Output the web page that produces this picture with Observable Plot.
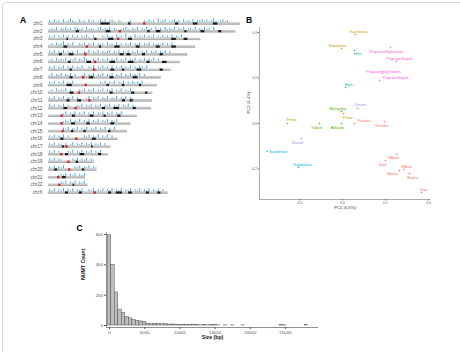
<!DOCTYPE html>
<html><head><meta charset="utf-8">
<script src="https://cdn.jsdelivr.net/npm/d3@7"></script>
<script src="https://cdn.jsdelivr.net/npm/@observablehq/plot@0.6"></script>
<style>
body{margin:0;background:#fff;font-family:"Liberation Sans",Arial,sans-serif;}
#fig{position:relative;width:460px;height:352px;overflow:hidden;background:#fff;}
.frame{position:absolute;left:2px;top:2px;width:480px;height:380px;border:1px solid #d9d9d9;border-radius:4px;}
.panel{position:absolute;}
#tags{position:absolute;left:0;top:0;}
</style></head>
<body><div id="fig"><div class="frame"></div>
<div id="pa" class="panel" style="left:0;top:0"></div>
<div id="pb" class="panel" style="left:230px;top:0"></div>
<div id="pc" class="panel" style="left:60px;top:210px"></div>
<svg id="tags" width="460" height="352" font-family="Liberation Sans, Arial, sans-serif" font-weight="bold" font-size="8.5">
<text x="20" y="23">A</text><text x="246" y="22.5">B</text><text x="76.5" y="231">C</text>
</svg>
</div>
<script>
// ---------- Panel A data ----------
const chroms = ["chr1","chr2","chr3","chr4","chr5","chr6","chr7","chr8","chr9","chr10","chr11","chr12","chr13","chr14","chr15","chr16","chr17","chr18","chr19","chr20","chr21","chr22","chrX"];
const chromLengths = [249.3,243.2,198.0,191.2,180.9,171.1,159.1,146.4,141.2,135.5,135.0,133.9,115.2,107.3,102.5,90.4,81.2,78.1,59.1,63.0,48.1,51.3,155.3];
const centromeres = [125.0,93.3,91.0,50.4,48.4,61.0,59.9,45.6,49.0,40.2,53.7,35.8,17.9,17.6,19.0,36.6,24.0,17.2,26.5,27.5,13.2,14.7,60.6];
const darkBands = [
 ["chr1",68,80],["chr1",104,107],["chr1",165,169],["chr1",188,194],["chr1",214,220],
 ["chr2",36,40],["chr2",75,81],["chr2",129,132],["chr2",140,146],["chr2",177,180],["chr2",198,203],["chr2",221,225],
 ["chr3",24,26],["chr3",60,63],["chr3",78,85],["chr3",104,109],["chr3",160,166],["chr3",176,181],
 ["chr4",20,25],["chr4",66,69],["chr4",86,93],["chr4",114,119],["chr4",140,145],["chr4",160,166],
 ["chr5",14,18],["chr5",27,33],["chr5",93,98],["chr5",102,107],["chr5",122,126],["chr5",145,149],
 ["chr6",26,29],["chr6",50,56],["chr6",80,87],["chr6",104,111],["chr6",128,132],["chr6",148,154],
 ["chr7",28,31],["chr7",81,86],["chr7",96,99],["chr7",115,121],["chr7",145,149],
 ["chr8",28,32],["chr8",53,59],["chr8",80,85],["chr8",110,116],
 ["chr9",24,31],["chr9",76,79],["chr9",96,99],["chr9",118,121],
 ["chr10",28,33],["chr10",80,84],["chr10",108,112],["chr10",126,129],
 ["chr11",24,28],["chr11",38,43],["chr11",96,100],["chr11",106,110],
 ["chr12",20,25],["chr12",70,74],["chr12",85,92],["chr12",110,114],
 ["chr13",31,35],["chr13",54,59],["chr13",72,75],["chr13",90,94],
 ["chr14",30,35],["chr14",50,54],["chr14",81,86],
 ["chr15",30,33],["chr15",46,49],["chr15",78,81],
 ["chr16",16,20],["chr16",57,62],
 ["chr17",18,21],["chr17",56,58],
 ["chr18",22,26],["chr18",41,47],["chr18",65,69],
 ["chr19",36,39],
 ["chr20",8,12],["chr20",44,47],
 ["chr21",18,23],
 ["chr22",32,34],
 ["chrX",22,26],["chrX",40,44],["chrX",78,82],["chrX",88,96],["chrX",104,109],["chrX",127,131],["chrX",142,146]
];
// NUMT track heights, one digit per 3-Mb bin (read approximately)
const numtBinMb = 3;
const numtTrack = [
 "213120312421031203120131302310210012000002131204123012312031213022313124102312",
 "121302131203212031210231213021012310213021312031203121302130221302131203",
 "2130213120312021310200021312031204120312130213021312130213",
 "1203124021300213021302120312031202130213021302121302130",
 "21302130212030021302130212302130213021302130213021302",
 "120312130213021420021302130213021302130213121302",
 "21302130213021300213021312030213021302132130",
 "130213021302001302130213021302130213121302",
 "21302130213000000000002130213021302131213",
 "1203121302000213021302130213021302130",
 "2130213021302000130213021302130213021",
 "3120213021002130213021302130213021302",
 "00000013021302130213021302130213",
 "000000121302130213021302130213",
 "000000213021302130213021302130",
 "2130213020000002130213021302",
 "2130210201302130213021302",
 "213020002130213021302130",
 "21302100002130213021",
 "2130213000021302130213",
 "0000121302130213",
 "00000213021302130",
 "21302130213021300213021302130213021302130213021302"
];

// ---------- Panel B data ----------
const popNames = ["Karitiana","Karitiana","Han","PapuanHighlands","PapuanSepik","PapuanHighlands","PapuanSepik","Han","Druze","Mongola","Pima","Yoruba","Yoruba","Pima","Yakut","Altaian","Druze","Sardinian","Sardinian","Mbuti","San","Mbuti","Biaka","Biaka","San"];
const popRegion = ["America","America","EastAsia","Oceania","Oceania","Oceania","Oceania","EastAsia","MiddleEast","CentralAsiaSiberia","America","Africa","Africa","America","CentralAsiaSiberia","CentralAsiaSiberia","MiddleEast","WestEurasia","WestEurasia","Africa","Africa","Africa","Africa","Africa","Africa"];
const pc1 = [0.060,-0.005,0.056,0.223,0.251,0.186,0.172,0.014,0.070,-0.005,0.005,0.056,0.195,-0.256,-0.107,-0.005,-0.191,-0.349,-0.205,0.251,0.200,0.284,0.265,0.312,0.367];
const pc2 = [0.391,0.330,0.321,0.334,0.273,0.220,0.189,0.158,0.066,0.053,0.044,0.000,0.009,0.000,0.000,0.000,-0.066,-0.123,-0.193,-0.136,-0.163,-0.202,-0.207,-0.220,-0.303];
const labelPc1 = [0.074,-0.023,0.070,0.205,0.265,0.191,0.247,0.028,0.084,-0.023,0.023,0.098,0.181,-0.237,-0.121,-0.023,-0.209,-0.298,-0.186,0.237,0.186,0.298,0.233,0.326,0.377];
const labelPc2 = [0.404,0.343,0.308,0.316,0.286,0.229,0.202,0.171,0.084,0.066,0.026,0.013,-0.009,0.018,-0.018,-0.018,-0.084,-0.123,-0.180,-0.149,-0.180,-0.189,-0.220,-0.237,-0.290];
const regions = ["Africa","America","CentralAsiaSiberia","EastAsia","WestEurasia","MiddleEast","Oceania"];
const regionColors = ["#F8766D","#C49A00","#53B400","#00C094","#00B6EB","#A58AFF","#FB61D7"];
const pcTicks = [-0.2,0.0,0.2,0.4];

// ---------- Panel C data ----------
const binWidth = 500;
const histCounts = [595,400,218,105,82,58,47,36,31,27,23,13,9,12,10,8,9,6,7,4,3,4,2,2,4,2,1,3,1,2,3,1,0,1,0,1,0,0,1,0,0,0,0,0,0,0,0,0,0,2,1,0,0,0,0,0,2];
const sizeTicks = [0,5000,10000,15000,20000,25000];
const countTicks = [0,200,400,600];

const font = "Liberation Sans, Arial, sans-serif";

// ---------- Panel A ----------
const rowsA = chroms.map((c,i)=>({c,i,len:chromLengths[i],cen:centromeres[i]}));
const bandsA = darkBands.map(([c,s,e])=>({i:chroms.indexOf(c),s,e}));
const ticksA = [];
numtTrack.forEach((str,i)=>{
  for (let k=0;k<str.length;k++){
    const h=+str[k], pos=k*numtBinMb+numtBinMb/2;
    if (h>0 && pos<chromLengths[i]) ticksA.push({i,pos,h});
  }
});
document.getElementById("pa").append(Plot.plot({
  width:242, height:200, marginLeft:48, marginRight:2, marginTop:23, marginBottom:8,
  style:{fontFamily:font, background:"transparent", overflow:"visible"},
  x:{domain:[0,249.3], axis:null},
  y:{domain:[0,22], reverse:true},
  marks:[
    Plot.ruleY(rowsA,{y:"i", x1:()=>0, x2:"len", stroke:"#c8c8c8", strokeWidth:2.4}),
    Plot.ruleY(rowsA,{y:d=>d.i+0.1, x1:()=>0, x2:"len", stroke:"#9a9a9a", strokeWidth:0.6}),
    Plot.ruleY(bandsA,{y:"i", x1:"s", x2:"e", stroke:"#1a1a1a", strokeWidth:2.2}),
    Plot.ruleY(rowsA,{y:"i", x1:d=>d.cen-1.6, x2:d=>d.cen+1.6, stroke:"#d62728", strokeWidth:2.4}),
    Plot.ruleX(ticksA,{x:"pos", y1:d=>d.i-0.1, y2:d=>d.i-0.1-d.h*0.13, stroke:"#3f9bd0", strokeWidth:0.9}),
    Plot.axisY({ticks:d3.range(chroms.length), tickFormat:i=>chroms[i], tickSize:0, tickPadding:6, fontSize:4.8, color:"#555", label:null})
  ]
}));

// ---------- Panel B ----------
const pca = popNames.map((p,i)=>({pop:p, region:popRegion[i], pc1:pc1[i], pc2:pc2[i], lx:labelPc1[i], ly:labelPc2[i]}));
const xd=[-0.386,0.409], yd=[-0.334,0.422];
document.getElementById("pb").append(Plot.plot({
  width:230, height:220, marginLeft:29, marginRight:30, marginTop:27, marginBottom:21,
  style:{fontFamily:font, background:"transparent", overflow:"visible"},
  x:{domain:xd}, y:{domain:yd},
  color:{domain:regions, range:regionColors},
  marks:[
    Plot.ruleX([xd[0]],{stroke:"#888", strokeWidth:0.7}),
    Plot.ruleY([yd[0]],{stroke:"#888", strokeWidth:0.7}),
    Plot.axisX({ticks:pcTicks, tickFormat:d=>d.toFixed(1), tickSize:1.5, tickPadding:0.8, fontSize:3.5, color:"#666", label:null}),
    Plot.axisY({ticks:pcTicks, tickFormat:d=>d.toFixed(1), tickSize:1.5, tickPadding:1, fontSize:3.5, color:"#666", label:null}),
    Plot.dot(pca,{x:"pc1", y:"pc2", fill:"region", r:0.8}),
    Plot.text(pca,{x:"lx", y:"ly", text:"pop", fill:"region", fontSize:4.4}),
    Plot.text(["PC1 (6.5%)"],{text:d=>d, frameAnchor:"bottom", dy:9.5, fontSize:4.2, fill:"#333"}),
    Plot.text(["PC2 (4.4%)"],{text:d=>d, frameAnchor:"left", rotate:-90, dx:-11, fontSize:4.2, fill:"#333"})
  ]
}));

// ---------- Panel C ----------
const hist = histCounts.map((n,i)=>({x1:i*binWidth-binWidth/2, x2:i*binWidth+binWidth/2, n})).filter(d=>d.n>0);
const cx=[-430,29700], cy=[-13,613];
document.getElementById("pc").append(Plot.plot({
  width:270, height:142, marginLeft:46, marginRight:12, marginTop:22, marginBottom:25,
  style:{fontFamily:font, background:"transparent", overflow:"visible"},
  x:{domain:cx}, y:{domain:cy},
  marks:[
    Plot.rect(hist,{x1:"x1", x2:"x2", y1:()=>0, y2:"n", fill:"#bebebe", stroke:"#3a3a3a", strokeWidth:0.4}),
    Plot.ruleX([cx[0]],{stroke:"#444", strokeWidth:0.6}),
    Plot.ruleY([cy[0]],{stroke:"#444", strokeWidth:0.6}),
    Plot.axisX({ticks:sizeTicks, tickFormat:d=>String(d), tickSize:2, tickPadding:1, fontSize:4.4, color:"#555", label:null}),
    Plot.axisY({ticks:countTicks, tickFormat:d=>String(d), tickSize:2, tickPadding:1.5, fontSize:4.4, color:"#555", label:null}),
    Plot.text(["Size (bp)"],{text:d=>d, frameAnchor:"bottom", dy:11.5, fontSize:5.2, fontWeight:"bold", fill:"#111"}),
    Plot.text(["NUMT Count"],{text:d=>d, frameAnchor:"left", rotate:-90, dx:-23, fontSize:5.2, fontWeight:"bold", fill:"#111"})
  ]
}));
</script>
</body></html>
